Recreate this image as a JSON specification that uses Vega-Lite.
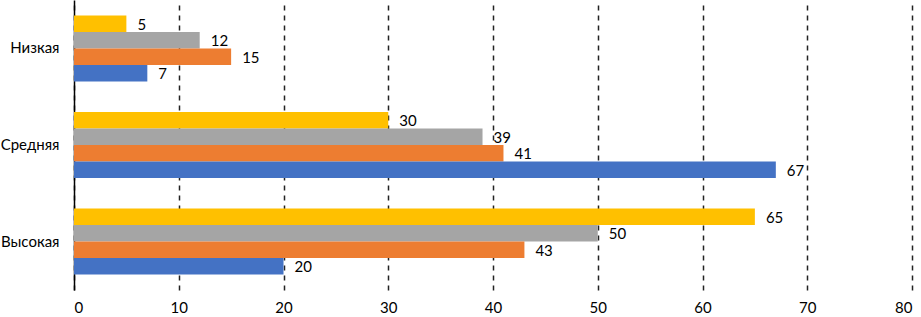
{
  "$schema": "https://vega.github.io/schema/vega-lite/v6.json",
  "width": 838,
  "height": 290,
  "autosize": {"type": "none"},
  "padding": {"left": 74, "top": 0, "right": 9, "bottom": 27},
  "config": {"view": {"stroke": null}, "font": "Lato"},
  "data": {
    "values": [
      {"level": "Низкая", "series": "s1", "value": 5},
      {"level": "Низкая", "series": "s2", "value": 12},
      {"level": "Низкая", "series": "s3", "value": 15},
      {"level": "Низкая", "series": "s4", "value": 7},
      {"level": "Средняя", "series": "s1", "value": 30},
      {"level": "Средняя", "series": "s2", "value": 39},
      {"level": "Средняя", "series": "s3", "value": 41},
      {"level": "Средняя", "series": "s4", "value": 67},
      {"level": "Высокая", "series": "s1", "value": 65},
      {"level": "Высокая", "series": "s2", "value": 50},
      {"level": "Высокая", "series": "s3", "value": 43},
      {"level": "Высокая", "series": "s4", "value": 20}
    ]
  },
  "encoding": {
    "y": {
      "field": "level",
      "type": "nominal",
      "sort": ["Низкая", "Средняя", "Высокая"],
      "scale": {"paddingInner": 0.316, "paddingOuter": 0.16},
      "axis": {
        "title": null,
        "ticks": false,
        "domain": true,
        "domainColor": "#000000",
        "domainWidth": 1.5,
        "labelFontSize": 15,
        "labelColor": "#000000",
        "labelPadding": 15,
        "grid": false
      }
    },
    "yOffset": {
      "field": "series",
      "type": "nominal",
      "sort": ["s1", "s2", "s3", "s4"],
      "scale": {"paddingInner": 0, "paddingOuter": 0}
    },
    "x": {
      "field": "value",
      "type": "quantitative",
      "scale": {"domain": [0, 80], "nice": false},
      "axis": {
        "title": null,
        "values": [0, 10, 20, 30, 40, 50, 60, 70, 80],
        "grid": true,
        "gridDash": [5, 5],
        "gridColor": "#222222",
        "gridWidth": 1.5,
        "domain": false,
        "ticks": false,
        "labelFontSize": 15,
        "labelColor": "#000000",
        "labelPadding": 10
      }
    }
  },
  "layer": [
    {
      "mark": {"type": "bar"},
      "encoding": {
        "color": {
          "field": "series",
          "type": "nominal",
          "scale": {"domain": ["s1", "s2", "s3", "s4"], "range": ["#FFC000", "#A5A5A5", "#ED7D31", "#4472C4"]},
          "legend": null
        }
      }
    },
    {
      "mark": {"type": "text", "align": "left", "baseline": "middle", "dx": 11, "dy": 1, "fontSize": 15, "color": "#000000"},
      "encoding": {"text": {"field": "value", "type": "quantitative"}}
    }
  ]
}
